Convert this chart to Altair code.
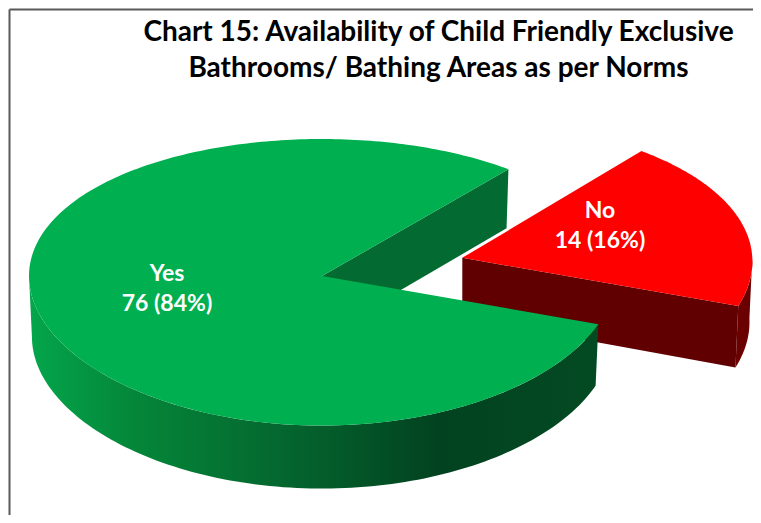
import altair as alt
import numpy as np
import pandas as pd

# Chart data
categories = ["Yes", "No"]
counts = [76, 14]
percents = ["84%", "16%"]
title_lines = ["Chart 15: Availability of Child Friendly Exclusive",
               "Bathrooms/ Bathing Areas as per Norms"]

# Look of the tilted pie
W, H = 744, 506
ORIGIN = 9
APEX_YES = (322.0, 276.0)
APEX_NO = (462.3, 257.8)
RX_YES, RX_NO, RY, PERSP = 293.0, 290.0, 143.0, 0.044
SKEW_NO = 0.05            # the pulled-out slice leans a little in the projection
NO_START = -19.4          # degrees, near edge of the No slice
SWEEP_STRETCH = 1.248     # the tilted projection widens the slice's apparent angle

share_no = counts[1] / sum(counts)
sweep = 360 * share_no * SWEEP_STRETCH
no_a, no_b = NO_START, NO_START + sweep


def top(apex, deg, rx=RX_YES, skew=0.0):
    t = np.radians(np.asarray(deg, dtype=float))
    d = 1 + PERSP * np.sin(t)
    up = RY * np.sin(t) / d
    return apex[0] + rx * np.cos(t) - skew * up, apex[1] - up


def bottom(apex, deg, rx=RX_YES, skew=0.0):
    t = np.radians(np.asarray(deg, dtype=float))
    x, y = top(apex, deg, rx, skew)
    return apex[0] + (x - apex[0]) * 0.99, y + 60.75 - 2.25 * np.sin(t)


def frame(name, xs, ys):
    xs, ys = np.atleast_1d(xs), np.atleast_1d(ys)
    return pd.DataFrame({"x": xs, "y": ys, "i": range(len(xs)), "part": name})


def join(*pairs):
    return (np.concatenate([np.atleast_1d(p[0]) for p in pairs]),
            np.concatenate([np.atleast_1d(p[1]) for p in pairs]))


def arc(a, b, n=120):
    return np.linspace(a, b, n)


ax0, ay0 = APEX_YES
bx0, by0 = APEX_NO

yes_top = frame("yes_top", *join(([ax0], [ay0]), top(APEX_YES, arc(no_b, 360 + no_a, 300))))
yes_front = top(APEX_YES, arc(180, 360 + no_a))
yes_back = bottom(APEX_YES, arc(360 + no_a, 180))
yes_wall = frame("yes_wall", *join(yes_front, yes_back))
e_top = top(APEX_YES, no_b)
e_bot = bottom(APEX_YES, no_b)
yes_cut = frame("yes_cut", *join(([ax0], [ay0]), e_top, e_bot, ([ax0], [ay0 + 60])))

no_top = frame("no_top", *join(([bx0], [by0]), top(APEX_NO, arc(no_a, no_b), RX_NO, SKEW_NO)))
n_top = top(APEX_NO, no_a, RX_NO, SKEW_NO)
n_bot = bottom(APEX_NO, no_a, RX_NO, SKEW_NO)
no_cut = frame("no_cut", *join(([bx0], [by0]), n_top, n_bot, ([bx0], [by0 + 60])))
no_wall = frame("no_wall", *join(top(APEX_NO, arc(no_a, 0, 30), RX_NO, SKEW_NO),
                                 bottom(APEX_NO, arc(0, no_a, 30), RX_NO, SKEW_NO)))

x_scale = alt.Scale(domain=[0, W], range=[0, W], nice=False, zero=False)
y_scale = alt.Scale(domain=[0, H], range=[0, H], nice=False, zero=False)
x_axis = alt.Axis(orient="top", labels=False, ticks=False, grid=False, title=None,
                  domainColor="#595959", domainWidth=2)
y_axis = alt.Axis(orient="left", labels=False, ticks=False, grid=False, title=None,
                  domainColor="#595959", domainWidth=2)
enc_x = alt.X("x:Q", scale=x_scale, axis=x_axis)
enc_y = alt.Y("y:Q", scale=y_scale, axis=y_axis)


def poly(df, fill):
    return alt.Chart(df).mark_line(fill=fill, strokeWidth=0, interpolate="linear").encode(
        x=enc_x, y=enc_y, order="i:Q",
    )


# shift page coordinates into plot coordinates
for d in (yes_top, yes_wall, yes_cut, no_top, no_cut, no_wall):
    d["x"] -= ORIGIN
    d["y"] -= ORIGIN

wall_grad = alt.Gradient(
    gradient="linear", x1=0, y1=0, x2=1, y2=0,
    stops=[
        alt.GradientStop(offset=0.0, color="#04A64C"),
        alt.GradientStop(offset=0.18, color="#048739"),
        alt.GradientStop(offset=0.42, color="#046A30"),
        alt.GradientStop(offset=0.72, color="#024220"),
        alt.GradientStop(offset=1.0, color="#034A22"),
    ],
)

labels = pd.DataFrame({
    "cat": categories,
    "val": [f"{c} ({p})" for c, p in zip(counts, percents)],
    "x": [167 - ORIGIN, 600 - ORIGIN],
    "y": [273.5 - ORIGIN, 210.5 - ORIGIN],
})

cat_text = alt.Chart(labels).mark_text(
    font="Lato", fontWeight="bold", fontSize=23, color="white"
).encode(x=enc_x, y=enc_y, text="cat:N")
val_text = alt.Chart(labels).mark_text(
    font="Lato", fontWeight="bold", fontSize=23, color="white", dy=30
).encode(x=enc_x, y=enc_y, text="val:N")

chart = alt.layer(
    poly(no_wall, "#6A0000"),
    poly(no_cut, "#600000"),
    poly(no_top, "#FF0000"),
    poly(yes_cut, "#036B31"),
    poly(yes_wall, wall_grad),
    poly(yes_top, "#00B050"),
    cat_text,
    val_text,
).properties(
    width=W,
    height=H,
    padding={"left": 1, "top": 1, "right": 0, "bottom": 0},
    autosize=alt.AutoSizeParams(type="none"),
    title=alt.TitleParams(
        text=title_lines, anchor="middle", dx=57.5, offset=-74,
        font="Lato", fontWeight="bold", fontSize=28, lineHeight=36, color="black",
    ),
).configure_view(stroke=None)

chart.save("out.html", embed_options={"renderer": "svg", "actions": False})
